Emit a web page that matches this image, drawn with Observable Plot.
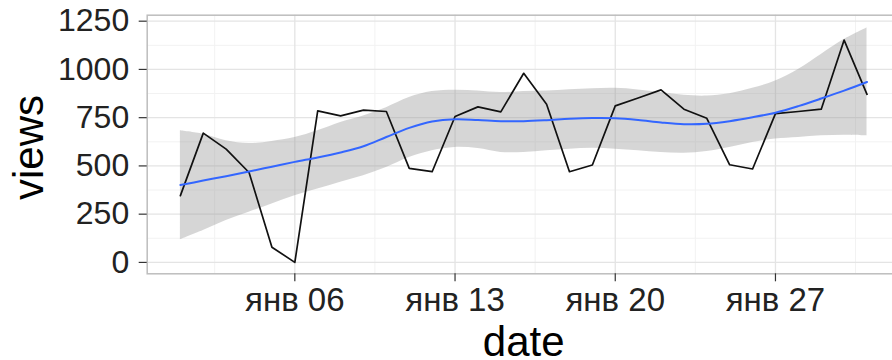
<!DOCTYPE html>
<html>
<head>
<meta charset="utf-8">
<script src="https://cdn.jsdelivr.net/npm/d3@7"></script>
<script src="https://cdn.jsdelivr.net/npm/@observablehq/plot@0.6"></script>
<style>
  html, body { margin: 0; padding: 0; background: #fff; overflow: hidden; }
  #chart svg { display: block; overflow: hidden; }
</style>
</head>
<body>
<div id="chart"></div>
<script>
const dates = ["2015-01-01","2015-01-02","2015-01-03","2015-01-04","2015-01-05","2015-01-06","2015-01-07","2015-01-08","2015-01-09","2015-01-10","2015-01-11","2015-01-12","2015-01-13","2015-01-14","2015-01-15","2015-01-16","2015-01-17","2015-01-18","2015-01-19","2015-01-20","2015-01-21","2015-01-22","2015-01-23","2015-01-24","2015-01-25","2015-01-26","2015-01-27","2015-01-28","2015-01-29","2015-01-30","2015-01-31"];
const views = [346,670,587,466,79,0,785,759,789,782,487,470,756,806,780,980,820,470,505,811,852,894,794,747,506,484,771,782,794,1152,871];
const smooth = [401,424,447,471,496,521,544,570,602,650,697,730,742,738,732,732,737,744,748,747,738,725,716,718,732,752,776,810,849,890,935];
const upper = [682,664,630,616,627,647,682,725,759,802,854,885,892,888,880,885,888,895,900,902,894,880,866,862,874,902,940,1000,1078,1155,1215];
const lower = [117,165,217,260,303,346,380,415,449,492,544,579,596,590,570,570,579,587,592,587,579,570,566,575,596,621,639,647,656,659,656];

const xTicks = ["2015-01-06","2015-01-13","2015-01-20","2015-01-27"];
const xTickLabels = ["янв 06","янв 13","янв 20","янв 27"];
const xMinor = ["2015-01-02T12:00","2015-01-09T12:00","2015-01-16T12:00","2015-01-23T12:00","2015-01-30T12:00"];
const yTicks = [0,250,500,750,1000,1250];
const yMinor = [125,375,625,875,1125];

const parse = s => new Date(s + (s.length === 10 ? "T00:00Z" : "Z"));
const data = dates.map((d, i) => ({date: parse(d), views: views[i], fit: smooth[i], lo: lower[i], hi: upper[i]}));
const xt = xTicks.map(parse);
const xm = xMinor.map(parse);

const day = 864e5;
const font = "'Liberation Sans', Arial, Helvetica, sans-serif";

const chart = Plot.plot({
  width: 892,
  height: 360,
  marginLeft: 146.7,
  marginRight: -7.7,
  marginTop: 14.7,
  marginBottom: 86.7,
  style: {fontFamily: font, background: "#fff"},
  x: {type: "utc", domain: [new Date(+data[0].date - 1.45 * day), new Date(+data[30].date + 1.45 * day)]},
  y: {domain: [-59, 1281]},
  marks: [
    Plot.gridX(xm, {stroke: "#f2f2f2", strokeOpacity: 1, strokeWidth: 1}),
    Plot.gridY(yMinor, {stroke: "#f2f2f2", strokeOpacity: 1, strokeWidth: 1}),
    Plot.gridX(xt, {stroke: "#e4e4e4", strokeOpacity: 1, strokeWidth: 1.3}),
    Plot.gridY(yTicks, {stroke: "#e4e4e4", strokeOpacity: 1, strokeWidth: 1.3}),
    Plot.areaY(data, {x: "date", y1: "lo", y2: "hi", fill: "#999999", fillOpacity: 0.4, curve: "catmull-rom"}),
    Plot.line(data, {x: "date", y: "views", stroke: "#111", strokeWidth: 1.7}),
    Plot.line(data, {x: "date", y: "fit", stroke: "#3366FF", strokeWidth: 2, curve: "catmull-rom"}),
    Plot.frame({stroke: "#bdbdbd", strokeWidth: 1.5}),
    Plot.axisY({ticks: yTicks, tickSize: 8, tickPadding: 10, fontSize: 32, stroke: "#333", color: "#222", label: null, strokeWidth: 1.2,
      tickFormat: d => String(d)}),
    Plot.axisX({ticks: xt, tickSize: 8, tickPadding: 6, fontSize: 33, stroke: "#333", color: "#222", label: null, strokeWidth: 1.2,
      tickFormat: d => xTickLabels[xt.findIndex(t => +t === +d)]}),
    Plot.text(["views"], {text: d => d, frameAnchor: "left", textAnchor: "middle", rotate: -90, dx: -117.7, dy: 3, fontSize: 42, fill: "#000", lineAnchor: "middle"}),
    Plot.text(["date"], {text: d => d, frameAnchor: "bottom", textAnchor: "middle", dy: 68.5, fontSize: 42, fill: "#000", lineAnchor: "middle"})
  ]
});
document.getElementById("chart").appendChild(chart);
</script>
</body>
</html>
